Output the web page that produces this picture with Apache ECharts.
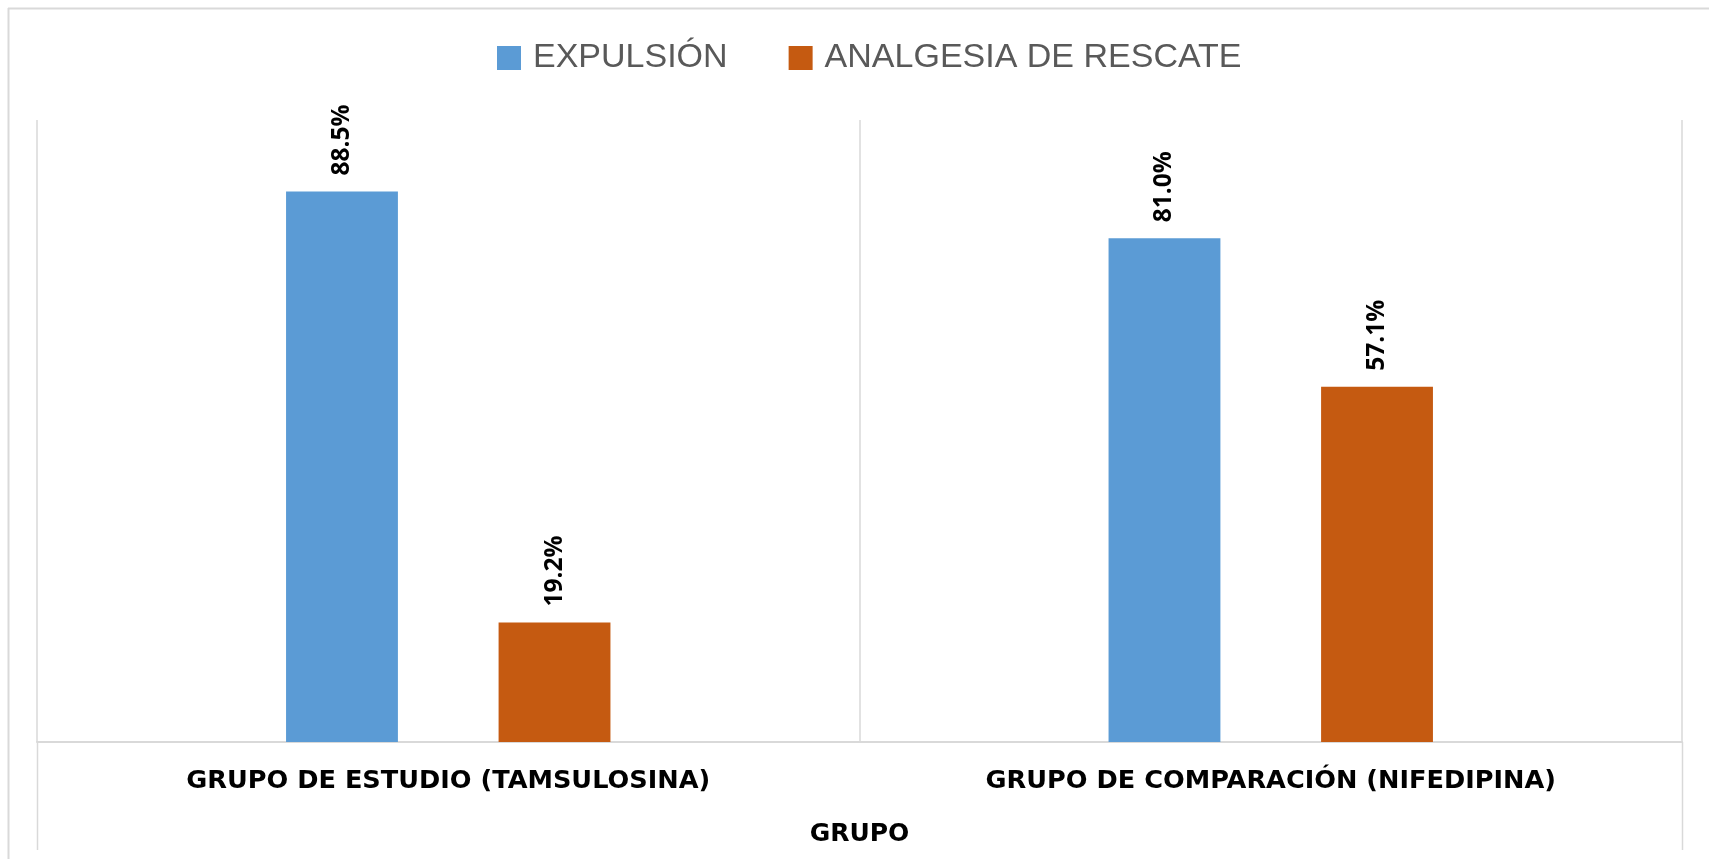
<!DOCTYPE html>
<html>
<head>
<meta charset="utf-8">
<script src="https://cdn.jsdelivr.net/npm/echarts@6/dist/echarts.min.js"></script>
<style>html,body{margin:0;padding:0;background:#fff;}#c{width:1709px;height:859px;}</style>
</head>
<body>
<div id="c"></div>
<script>
const categories = ['GRUPO DE ESTUDIO (TAMSULOSINA)', 'GRUPO DE COMPARACIÓN (NIFEDIPINA)'];
const seriesNames = ['EXPULSIÓN', 'ANALGESIA DE RESCATE'];
const expulsion = [88.5, 81.0];
const analgesia = [19.2, 57.1];
const axisName = 'GRUPO';

const chart = echarts.init(document.getElementById('c'), null, {renderer: 'canvas'});
const labelCfg = {
  show: true, position: 'top', rotate: 90, distance: 16,
  align: 'left', verticalAlign: 'middle',
  formatter: p => p.value.toFixed(1) + '%',
  color: '#000', fontFamily: 'Open Sans', fontWeight: 'bold', fontSize: 24.5
};
chart.setOption({
  animation: false,
  backgroundColor: '#fff',
  graphic: [
    {type: 'line', shape: {x1: 8, y1: 8.5, x2: 1709, y2: 8.5}, style: {stroke: '#d9d9d9', lineWidth: 2}, silent: true},
    {type: 'line', shape: {x1: 8.5, y1: 8, x2: 8.5, y2: 859}, style: {stroke: '#d9d9d9', lineWidth: 2}, silent: true},
    {type: 'line', shape: {x1: 37.5, y1: 742, x2: 37.5, y2: 850}, style: {stroke: '#d9d9d9', lineWidth: 1.5}, silent: true},
    {type: 'line', shape: {x1: 1682.5, y1: 742, x2: 1682.5, y2: 850}, style: {stroke: '#d9d9d9', lineWidth: 1.5}, silent: true}
  ],
  legend: {
    data: seriesNames,
    top: 36, left: 492,
    itemWidth: 24, itemHeight: 24, itemGap: 61,
    icon: 'rect',
    textStyle: {fontFamily: 'Liberation Sans', fontSize: 34, color: '#595959', padding: [0, 0, 0, 7]}
  },
  grid: {left: 37, right: 27, top: 120, bottom: 117, containLabel: false},
  xAxis: {
    type: 'category', data: categories,
    axisLine: {show: true, lineStyle: {color: '#d9d9d9', width: 2}},
    axisTick: {show: false},
    splitLine: {show: true, interval: 0, lineStyle: {color: '#d9d9d9', width: 1.5}},
    axisLabel: {interval: 0, margin: 27, lineHeight: 24, fontFamily: 'DejaVu Sans', fontWeight: 'bold', fontSize: 25.6, color: '#000'},
    name: axisName, nameLocation: 'middle', nameGap: 80,
    nameTextStyle: {fontFamily: 'DejaVu Sans', fontWeight: 'bold', fontSize: 25, lineHeight: 24, color: '#000'}
  },
  yAxis: {
    type: 'value', min: 0, max: 100, interval: 20,
    show: true, axisLine: {show: false}, axisTick: {show: false}, axisLabel: {show: false},
    splitLine: {show: false}
  },
  series: [
    {name: seriesNames[0], type: 'bar', data: expulsion, barWidth: '13.6%', barGap: '90%',
     itemStyle: {color: '#5B9BD5'}, label: labelCfg},
    {name: seriesNames[1], type: 'bar', data: analgesia, barWidth: '13.6%', barGap: '90%',
     itemStyle: {color: '#C55A11'}, label: labelCfg}
  ]
});
</script>
</body>
</html>
